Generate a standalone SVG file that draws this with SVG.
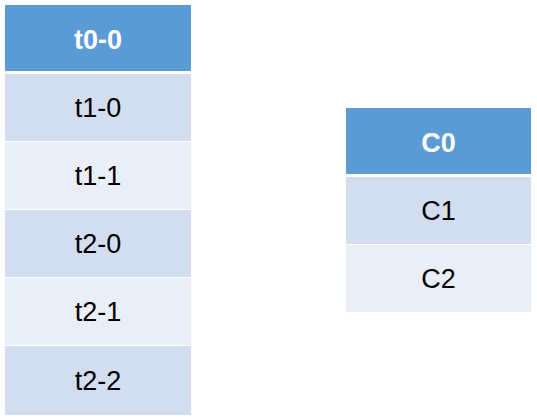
<svg xmlns="http://www.w3.org/2000/svg" width="537" height="420" viewBox="0 0 537 420">
<style>
.hd{fill:#5B9BD5}
.dk{fill:#D2DEEF}
.lt{fill:#EAEFF7}
text{font-family:"Liberation Sans",Arial,sans-serif;font-size:27px;text-anchor:middle;dominant-baseline:central}
.ht{fill:#FFFFFF;font-weight:bold}
.rt{fill:#000000}
</style>
<rect width="537" height="420" fill="#FFFFFF"/>
<g id="table-t">
<g id="t0-0"><rect class="hd" x="5" y="5" width="186" height="66"/><text class="ht" x="98" y="40">t0-0</text></g>
<g id="t1-0"><rect class="dk" x="5" y="74" width="186" height="67"/><text class="rt" x="98" y="108">t1-0</text></g>
<g id="t1-1"><rect class="lt" x="5" y="142" width="186" height="67"/><text class="rt" x="98" y="176">t1-1</text></g>
<g id="t2-0"><rect class="dk" x="5" y="210" width="186" height="67"/><text class="rt" x="98" y="244">t2-0</text></g>
<g id="t2-1"><rect class="lt" x="5" y="278" width="186" height="67"/><text class="rt" x="98" y="312">t2-1</text></g>
<g id="t2-2"><rect class="dk" x="5" y="346" width="186" height="69"/><text class="rt" x="98" y="381">t2-2</text></g>
</g>
<g id="table-c">
<g id="C0"><rect class="hd" x="346" y="108" width="185" height="66"/><text class="ht" x="438.5" y="143">C0</text></g>
<g id="C1"><rect class="dk" x="346" y="177" width="185" height="67"/><text class="rt" x="438.5" y="211">C1</text></g>
<g id="C2"><rect class="lt" x="346" y="245" width="185" height="67"/><text class="rt" x="438.5" y="279">C2</text></g>
</g>
<g id="connectors"/>
</svg>
